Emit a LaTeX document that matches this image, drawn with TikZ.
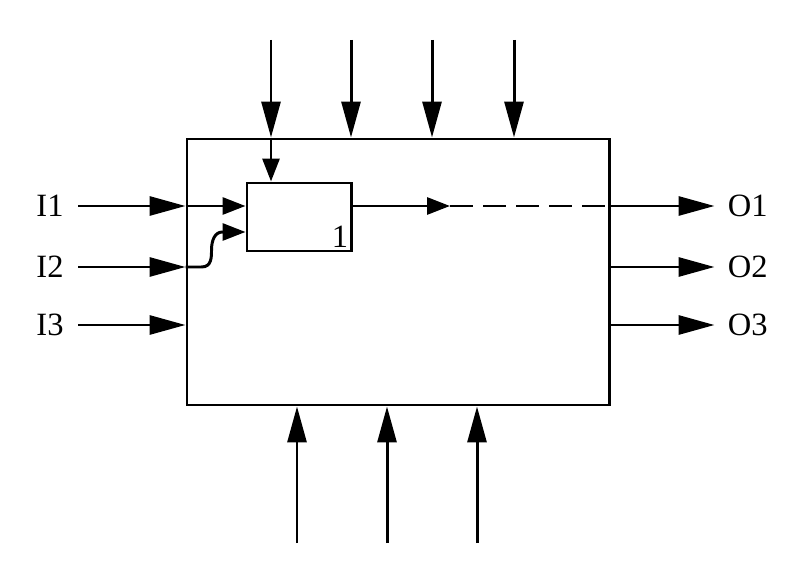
\documentclass[tikz,border=0pt]{standalone}
\usepackage{fontspec}
\setmainfont{Liberation Serif}
\usetikzlibrary{positioning,arrows.meta}

\begin{document}
\begin{tikzpicture}[caja/.style={draw,line width=1.7pt,inner sep=0pt},
                    rotulo/.style={font=\fontsize{18.5}{22}\selectfont,inner sep=0pt},
                    flecha/.style={line width=1.7pt,-{Triangle[length=7.2mm,width=3.8mm]}},
                    flechita/.style={line width=1.7pt,-{Triangle[length=4.6mm,width=3.4mm]}}]
  \useasboundingbox (0,0) rectangle (16,11.66);
  % cajas
  \node[caja,minimum width=8.44cm,minimum height=5.32cm] (proc) at (7.96,6.22) {};
  \node[caja,minimum width=2.08cm,minimum height=1.36cm] (sub) at (5.98,7.32) {};
  \node[rotulo,anchor=south east] (n1) at ([xshift=-0.8mm,yshift=1mm]sub.south east) {1};
  % entradas
  \node[rotulo] (i1) at (1.0,7.54) {I1};
  \node[rotulo] (i2) at (1.0,6.32) {I2};
  \node[rotulo] (i3) at (1.0,5.16) {I3};
  \foreach \n in {i1,i2,i3}
    \coordinate (\n s) at (1.56,0 |- \n);
  \coordinate (i1in) at (proc.west |- i1);
  \coordinate (i2in) at (proc.west |- i2);
  \draw[flecha] (i1s) -- (i1in);
  \draw[flecha] (i2s) -- (i2in);
  \draw[flecha] (i3s) -- (proc.west |- i3);
  \draw[flechita] (i1in) -- (sub.west |- i1);
  \coordinate (sub2) at ([yshift=-3mm]sub.west);
  \draw[flechita] (i2in) -- ++(0.32,0) .. controls +(0.2,0) and +(0,-0.15) .. ++(0.2,0.34)
        .. controls +(0,0.2) and +(-0.15,0) .. ([xshift=-4.6mm]sub2) -- (sub2);
  % salidas
  \node[rotulo,anchor=west] (o1) at (14.55,7.54) {O1};
  \node[rotulo,anchor=west] (o2) at (14.55,6.32) {O2};
  \node[rotulo,anchor=west] (o3) at (14.55,5.16) {O3};
  \coordinate (o1out) at (proc.east |- o1);
  \draw[flecha] (o1out) -- ([xshift=-2.6mm]o1.west);
  \draw[flecha] (proc.east |- o2) -- ([xshift=-2.6mm]o2.west);
  \draw[flecha] (proc.east |- o3) -- ([xshift=-2.6mm]o3.west);
  \coordinate (medio) at (9.0,7.54);
  \draw[flechita] (sub.east |- o1) -- (medio);
  \draw[line width=1.7pt,dash pattern=on 4.6mm off 2mm] (medio) -- (o1out);
  % controles
  \foreach \x/\n in {5.42/c1,7.02/c2,8.64/c3,10.28/c4}
    \coordinate (\n) at (\x,10.86);
  \foreach \n in {c1,c2,c3,c4}
    \draw[flecha] (\n) -- (proc.north -| \n);
  \draw[flechita] (proc.north -| c1) -- (sub.north -| c1);
  % mecanismos
  \foreach \x/\n in {5.94/m1,7.74/m2,9.54/m3}
    \coordinate (\n) at (\x,0.8);
  \foreach \n in {m1,m2,m3}
    \draw[flecha] (\n) -- (proc.south -| \n);
\end{tikzpicture}
\end{document}
